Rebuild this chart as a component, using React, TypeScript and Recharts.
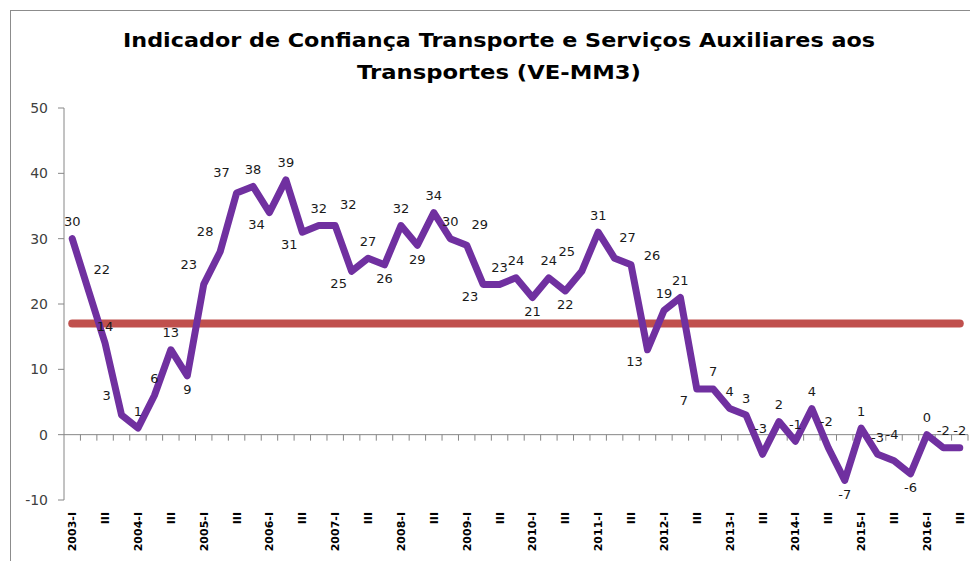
import React from 'react';
import { LineChart, Line, XAxis, YAxis, ReferenceLine, LabelList } from 'recharts';

const years = ['2003', '2004', '2005', '2006', '2007', '2008', '2009', '2010', '2011', '2012', '2013', '2014', '2015', '2016'];
const quarterNames = ['I', 'II', 'III', 'IV'];

// Indicador (VE-MM3), 2003-I .. 2016-III
const indicador = [
  30, 22, 14, 3,
  1, 6, 13, 9,
  23, 28, 37, 38,
  34, 39, 31, 32,
  32, 25, 27, 26,
  32, 29, 34, 30,
  29, 23, 23, 24,
  21, 24, 22, 25,
  31, 27, 26, 13,
  19, 21, 7, 7,
  4, 3, -3, 2,
  -1, 4, -2, -7,
  1, -3, -4, -6,
  0, -2, -2,
];

// Red horizontal reference level
const mediaValue = 17;

// data label side: T top, TT higher top, B bottom, TL/TR/BL top/bottom-left/right, R right
const labelSide = [
  'T', 'TR', 'T', 'TL',
  'T', 'T', 'T', 'B',
  'TL', 'TL', 'TL', 'T',
  'BL', 'T', 'BL', 'T',
  'TR', 'BL', 'T', 'B',
  'T', 'B', 'T', 'T',
  'TR', 'BL', 'T', 'T',
  'B', 'T', 'B', 'TL',
  'T', 'TR', 'R', 'BL',
  'T', 'T', 'BL', 'T',
  'T', 'T', 'TT', 'T',
  'T', 'T', 'TT', 'B',
  'T', 'T', 'TT', 'B',
  'T', 'T', 'T',
];

const yTicks = [-10, 0, 10, 20, 30, 40, 50];

const categories: string[] = [];
years.forEach((y) => quarterNames.forEach((q) => categories.push(`${y}-${q}`)));
const data = indicador.map((v, i) => ({ cat: categories[i], valor: v, media: mediaValue }));

const W = 970;
const H = 553;
const MARGIN = { top: 100, right: 10, left: 0, bottom: 0 };
const Y_W = 56;
const X_H = 61;
const plotW = W - MARGIN.left - MARGIN.right - Y_W;
const halfBand = plotW / data.length / 2;

const FONT = '"DejaVu Sans", Verdana, sans-serif';
const AXIS_GRAY = '#868686';

const XTick = (props: any) => {
  const { x, y, payload } = props;
  const v: string = payload.value;
  const [yr, q] = v.split('-');
  let text = '';
  if (q === 'I') text = `${yr}-I`;
  else if (q === 'III') text = 'III';
  if (!text) return null;
  return (
    <g transform={`translate(${x},${y})`}>
      <text
        transform="rotate(-90)"
        textAnchor="end"
        dy="0.36em"
        x={0}
        y={0}
        fontSize={11}
        fontWeight="bold"
        fontFamily={FONT}
        fill="#000"
      >
        {text}
      </text>
    </g>
  );
};

const offsets: Record<string, [number, number]> = {
  T: [0, -17],
  TT: [-2, -26],
  B: [0, 14],
  TL: [-15, -20],
  TR: [13, -21],
  BL: [-13, 12],
  R: [21, -9],
};

const DataLabel = (props: any) => {
  const { x, y, value, index } = props;
  const side = labelSide[index] || 'T';
  const [dx, dy] = offsets[side];
  return (
    <text
      x={x + dx}
      y={y + dy}
      textAnchor="middle"
      dominantBaseline="central"
      fontSize={13}
      fontFamily={FONT}
      fill="#1a1a1a"
    >
      {value}
    </text>
  );
};

const ZeroAxis = (props: any) => {
  const { x1, x2, y1 } = props;
  const n = data.length;
  const step = (x2 - x1) / n;
  const ticks = [];
  for (let k = 1; k <= n; k++) {
    const tx = x1 + k * step;
    ticks.push(<line key={k} x1={tx} x2={tx} y1={y1} y2={y1 + 6} stroke={AXIS_GRAY} strokeWidth={1} />);
  }
  return (
    <g>
      <line x1={x1} x2={x2} y1={y1} y2={y1} stroke={AXIS_GRAY} strokeWidth={1} />
      {ticks}
    </g>
  );
};

export default function App() {
  return (
    <div style={{ position: 'relative', width: W, height: H, background: '#fff' }}>
      <div style={{ position: 'absolute', left: 2, top: 2, width: 1, height: H, background: '#8c8c8c' }} />
      <div style={{ position: 'absolute', left: 2, top: 2, width: W, height: 1, background: '#8c8c8c' }} />
      <svg width={W} height={95} style={{ position: 'absolute', left: 0, top: 0 }}>
        <text
          x={115}
          y={39}
          textLength={752}
          lengthAdjust="spacingAndGlyphs"
          fontSize={20}
          fontWeight="bold"
          fontFamily={FONT}
          fill="#000"
        >
          Indicador de Confiança Transporte e Serviços Auxiliares aos
        </text>
        <text
          x={349}
          y={71}
          textLength={284}
          lengthAdjust="spacingAndGlyphs"
          fontSize={20}
          fontWeight="bold"
          fontFamily={FONT}
          fill="#000"
        >
          Transportes (VE-MM3)
        </text>
      </svg>
      <div style={{ position: 'absolute', left: 0, top: 0 }}>
        <LineChart width={W} height={H} data={data} margin={MARGIN}>
          <XAxis
            dataKey="cat"
            interval={0}
            height={X_H}
            axisLine={false}
            tickLine={false}
            tickSize={0}
            tickMargin={12}
            padding={{ left: halfBand, right: halfBand }}
            tick={<XTick />}
          />
          <YAxis
            width={Y_W}
            domain={[-10, 50]}
            ticks={yTicks}
            interval={0}
            allowDataOverflow
            axisLine={{ stroke: AXIS_GRAY }}
            tickLine={{ stroke: AXIS_GRAY }}
            tickSize={6}
            tickMargin={10}
            tick={{ fontSize: 14, fill: '#404040', fontFamily: FONT }}
          />
          <ReferenceLine y={0} shape={<ZeroAxis />} />
          <Line
            dataKey="media"
            stroke="#C0504D"
            strokeWidth={8}
            strokeLinecap="round"
            dot={false}
            activeDot={false}
            isAnimationActive={false}
          />
          <Line
            dataKey="valor"
            stroke="#7030A0"
            strokeWidth={7}
            strokeLinejoin="round"
            strokeLinecap="round"
            dot={false}
            activeDot={false}
            isAnimationActive={false}
          >
            <LabelList dataKey="valor" content={<DataLabel />} />
          </Line>
        </LineChart>
      </div>
    </div>
  );
}
